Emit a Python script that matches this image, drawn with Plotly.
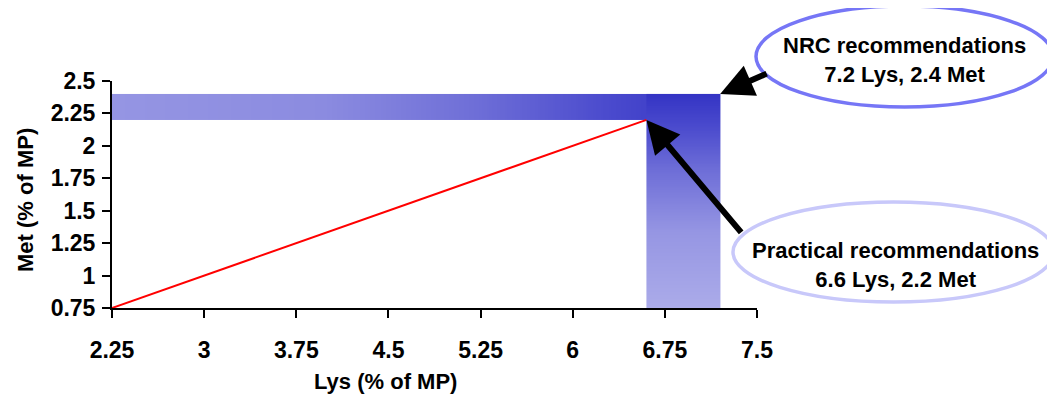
import numpy as np
import plotly.graph_objects as go

# ---- data ----
lys = [2.25, 3.0, 3.75, 4.5, 5.25, 6.0, 6.6]
met = [0.75, 1.0, 1.25, 1.5, 1.75, 2.0, 2.2]

nrc_lys, nrc_met = 7.2, 2.4
prac_lys, prac_met = 6.6, 2.2

x_ticks = [2.25, 3, 3.75, 4.5, 5.25, 6, 6.75, 7.5]
x_ticklabels = ["2.25", "3", "3.75", "4.5", "5.25", "6", "6.75", "7.5"]
y_ticks = [0.75, 1, 1.25, 1.5, 1.75, 2, 2.25, 2.5]
y_ticklabels = ["0.75", "1", "1.25", "1.5", "1.75", "2", "2.25", "2.5"]

x_range = [2.25, 7.5]
y_range = [0.75, 2.5]

nrc_text = "NRC recommendations<br>7.2 Lys, 2.4 Met"
prac_text = "Practical recommendations<br>6.6 Lys, 2.2 Met"

FONT = "Liberation Sans, Arial, sans-serif"

fig = go.Figure()

# horizontal gradient band
n = 240
hx = np.linspace(x_range[0], nrc_lys, n + 1)
hz = [list(np.linspace(0, 1, n))]
fig.add_trace(go.Heatmap(
    x=hx, y=[prac_met, nrc_met], z=hz, zmin=0, zmax=1,
    colorscale=[[0, "#9595e3"], [0.35, "#8b8be0"], [0.6, "#6e6ed7"],
                [0.82, "#4a4acd"], [1, "#3434c4"]],
    showscale=False, hoverinfo="skip"))

# vertical gradient band
vy = np.linspace(y_range[0], nrc_met, n + 1)
vz = [[v] for v in np.linspace(0, 1, n)]
fig.add_trace(go.Heatmap(
    x=[prac_lys, nrc_lys], y=vy, z=vz, zmin=0, zmax=1,
    colorscale=[[0, "#ababe9"], [0.35, "#9696e3"], [0.65, "#6d6dd7"],
                [0.85, "#4a4acd"], [1, "#3434c4"]],
    showscale=False, hoverinfo="skip"))

# red line
fig.add_trace(go.Scatter(x=lys, y=met, mode="lines",
                         line=dict(color="#ff0000", width=2),
                         hoverinfo="skip", showlegend=False))

# page layout (browser body has an 8px margin)
OFF = 8
W, H = 1055 - OFF, 400 - OFF
PL, PR, PT, PB = 112, 757, 81, 308   # plot area in page pixels
L, R = PL - OFF, (W + OFF) - PR
T, B = PT - OFF, (H + OFF) - PB
pw, ph = PR - PL, PB - PT
def px(xp):
    return (xp - PL) / pw
def py(yp):
    return (PB - yp) / ph

# ellipses
fig.add_shape(type="circle", xref="paper", yref="paper",
              x0=px(756), x1=px(1053), y0=py(107), y1=py(6),
              line=dict(color="#7676f6", width=3.5), layer="above")
fig.add_shape(type="circle", xref="paper", yref="paper",
              x0=px(733), x1=px(1054), y0=py(302), y1=py(202),
              line=dict(color="#c8c8fa", width=3.5), layer="above")

txt_font = dict(family=FONT, size=22, color="black", weight="bold")
# ellipse texts
fig.add_annotation(text=nrc_text, xref="paper", yref="paper",
                   x=px(904), y=py(60), xanchor="center", yanchor="middle",
                   showarrow=False, font=txt_font)
fig.add_annotation(text=prac_text, xref="paper", yref="paper",
                   x=px(895), y=py(265), xanchor="center", yanchor="middle",
                   showarrow=False, font=txt_font)

# arrows
fig.add_annotation(x=nrc_lys, y=nrc_met, xref="x", yref="y", text="",
                   showarrow=True, arrowhead=2, arrowsize=1.1, arrowwidth=6,
                   arrowcolor="black", ax=48, ay=-21, standoff=0)
fig.add_annotation(x=prac_lys, y=prac_met, xref="x", yref="y", text="",
                   showarrow=True, arrowhead=2, arrowsize=1.1, arrowwidth=6,
                   arrowcolor="black", ax=96, ay=114, standoff=0)

# axis titles
fig.add_annotation(text="Lys (% of MP)", xref="paper", yref="paper",
                   x=px(385), y=py(382), xanchor="center", yanchor="middle",
                   showarrow=False, font=txt_font)
fig.add_annotation(text="Met (% of MP)", xref="paper", yref="paper",
                   x=px(25), y=py(200), xanchor="center", yanchor="middle",
                   showarrow=False, textangle=-90, font=txt_font)

tick_font = dict(family=FONT, size=23, color="black", weight="bold")
fig.update_xaxes(range=x_range, tickvals=x_ticks, ticktext=x_ticklabels,
                 showline=True, linecolor="black", linewidth=2,
                 ticks="outside", ticklen=8, tickwidth=2, tickcolor="black",
                 showgrid=False, zeroline=False, ticklabelstandoff=12,
                 tickfont=tick_font)
fig.update_yaxes(range=y_range, tickvals=y_ticks, ticktext=y_ticklabels,
                 showline=True, linecolor="black", linewidth=2,
                 ticks="outside", ticklen=8, tickwidth=2, tickcolor="black",
                 showgrid=False, zeroline=False, ticklabelstandoff=2,
                 tickfont=tick_font)

fig.update_layout(width=W, height=H, autosize=False,
                  margin=dict(l=L, r=R, t=T, b=B, autoexpand=False),
                  plot_bgcolor="white", paper_bgcolor="white",
                  showlegend=False)

fig.write_html("out.html")
